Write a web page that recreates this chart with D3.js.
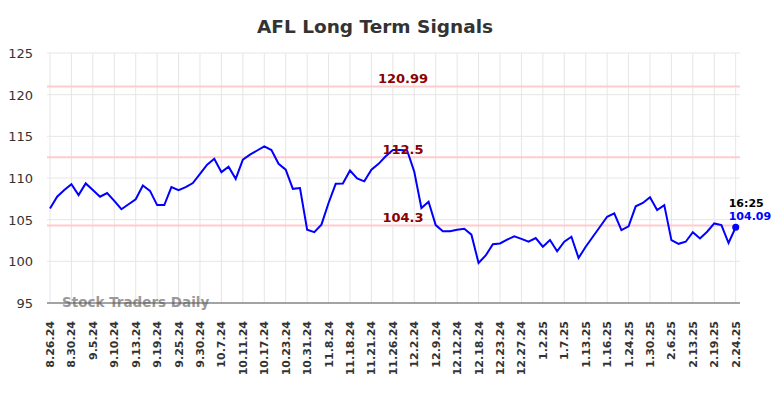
<!DOCTYPE html>
<html>
<head>
<meta charset="utf-8">
<script src="https://cdn.jsdelivr.net/npm/d3@7"></script>
<style>
  body { margin: 0; background: #fff; }
  text { font-family: "DejaVu Sans", sans-serif; }
</style>
</head>
<body>
<script>
// tick labels, one every 3 points
const dates = ['8.26.24', '8.30.24', '9.5.24', '9.10.24', '9.13.24', '9.19.24', '9.25.24', '9.30.24',
  '10.7.24', '10.11.24', '10.17.24', '10.23.24', '10.31.24', '11.8.24', '11.18.24', '11.21.24',
  '11.26.24', '12.2.24', '12.9.24', '12.12.24', '12.18.24', '12.23.24', '12.27.24', '1.2.25',
  '1.7.25', '1.13.25', '1.16.25', '1.24.25', '1.30.25', '2.6.25', '2.13.25', '2.19.25', '2.24.25']

const prices = [106.35, 107.75, 108.55, 109.25, 107.95, 109.35, 108.55, 107.75, 108.2, 107.25,
  106.25, 106.85, 107.45, 109.1, 108.45, 106.75, 106.75, 108.9, 108.55, 108.9,
  109.4, 110.5, 111.6, 112.3, 110.7, 111.35, 109.9, 112.2, 112.8, 113.3,
  113.8, 113.35, 111.7, 111.0, 108.7, 108.8, 103.8, 103.5, 104.4, 107.0,
  109.3, 109.35, 110.9, 109.95, 109.6, 111.0, 111.7, 112.6, 113.35, 113.35,
  113.3, 110.75, 106.4, 107.15, 104.35, 103.6, 103.6, 103.8, 103.9, 103.2,
  99.8, 100.7, 102.05, 102.15, 102.6, 103.0, 102.7, 102.35, 102.8, 101.75,
  102.55, 101.2, 102.35, 102.95, 100.4, 101.75, 102.95, 104.15, 105.35, 105.75,
  103.75, 104.2, 106.6, 107.0, 107.7, 106.15, 106.75, 102.55, 102.1, 102.35,
  103.5, 102.75, 103.55, 104.55, 104.35, 102.2, 104.09]

const signals = [120.99, 112.5, 104.3]
const yTicks = [95, 100, 105, 110, 115, 120, 125]
const lastTime = '16:25'

const w = 784
const h = 398
const plotL = 47, plotR = 740, plotT = 53, plotB = 303

const svg = d3.select('body')
  .append('svg')
  .attr('width', w)
  .attr('height', h)

const x = d3.scaleLinear().domain([0, prices.length - 1]).range([50, 735.7])
const y = d3.scaleLinear().domain([95, 125]).range([plotB, plotT])

// grid
svg.selectAll('line.hgrid')
  .data(yTicks)
  .enter()
  .append('line')
  .attr('x1', plotL).attr('x2', plotR)
  .attr('y1', d => y(d)).attr('y2', d => y(d))
  .attr('stroke', '#e6e6e6')

svg.selectAll('line.vgrid')
  .data(dates)
  .enter()
  .append('line')
  .attr('x1', (d, i) => x(i * 3)).attr('x2', (d, i) => x(i * 3))
  .attr('y1', plotT).attr('y2', plotB)
  .attr('stroke', '#e6e6e6')

// y labels
svg.selectAll('text.ylab')
  .data(yTicks)
  .enter()
  .append('text')
  .attr('x', 33)
  .attr('y', d => y(d) + 5)
  .attr('text-anchor', 'end')
  .attr('font-size', 13)
  .attr('fill', '#333')
  .text(d => d)

// x labels
svg.selectAll('text.xlab')
  .data(dates)
  .enter()
  .append('text')
  .attr('transform', (d, i) => `translate(${x(i * 3) + 4},321) rotate(-90)`)
  .attr('text-anchor', 'end')
  .attr('font-size', 11)
  .attr('font-weight', 'bold')
  .attr('fill', '#333')
  .text(d => d)

// signal lines
svg.selectAll('line.sig')
  .data(signals)
  .enter()
  .append('line')
  .attr('x1', plotL).attr('x2', plotR)
  .attr('y1', d => y(d)).attr('y2', d => y(d))
  .attr('stroke', '#ffcccc')
  .attr('stroke-width', 2)

// watermark
svg.append('text')
  .attr('x', 62).attr('y', 307)
  .attr('font-size', 13.5)
  .attr('font-weight', 'bold')
  .attr('fill', '#999')
  .text('Stock Traders Daily')

// bottom axis line
svg.append('line')
  .attr('x1', plotL).attr('x2', plotR)
  .attr('y1', plotB).attr('y2', plotB)
  .attr('stroke', '#555')

// price line
const line = d3.line()
  .x((d, i) => x(i))
  .y(d => y(d))

svg.append('path')
  .datum(prices)
  .attr('d', line)
  .attr('fill', 'none')
  .attr('stroke', 'blue')
  .attr('stroke-width', 2)

// signal labels
svg.selectAll('text.siglab')
  .data(signals)
  .enter()
  .append('text')
  .attr('x', 403)
  .attr('y', d => y(d) - 3.5)
  .attr('text-anchor', 'middle')
  .attr('font-size', 13)
  .attr('font-weight', 'bold')
  .attr('fill', '#8b0000')
  .text(d => d)

// last point
const last = prices.length - 1
svg.append('circle')
  .attr('cx', x(last)).attr('cy', y(prices[last]))
  .attr('r', 3.5)
  .attr('fill', 'blue')

svg.append('text')
  .attr('x', x(last) - 7).attr('y', y(prices[last]) - 20)
  .attr('font-size', 11)
  .attr('font-weight', 'bold')
  .attr('fill', '#000')
  .text(lastTime)

svg.append('text')
  .attr('x', x(last) - 7).attr('y', y(prices[last]) - 7)
  .attr('font-size', 11)
  .attr('font-weight', 'bold')
  .attr('fill', 'blue')
  .text(prices[last])

// title
svg.append('text')
  .attr('x', 375).attr('y', 33)
  .attr('text-anchor', 'middle')
  .attr('font-size', 18.5)
  .attr('font-weight', 'bold')
  .attr('fill', '#333')
  .text('AFL Long Term Signals')
</script>
</body>
</html>
